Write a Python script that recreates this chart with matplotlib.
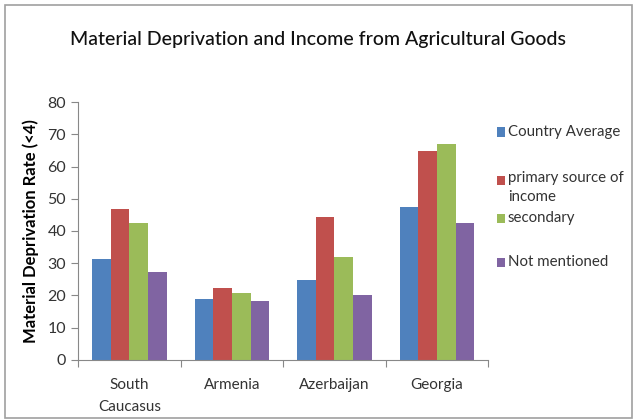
import matplotlib
matplotlib.use("Agg")
import matplotlib.pyplot as plt
import numpy as np
from matplotlib.patches import Rectangle

plt.rcParams['font.family'] = ['Lato', 'DejaVu Sans']

regions = ["South\nCaucasus", "Armenia", "Azerbaijan", "Georgia"]
series_names = ["Country Average", "primary source of\nincome", "secondary", "Not mentioned"]
country_avg = [31.3, 18.9, 24.8, 47.5]
primary = [46.7, 22.2, 44.4, 64.8]
secondary = [42.4, 20.9, 32.0, 67.0]
not_mentioned = [27.2, 18.4, 20.2, 42.4]
colors = ["#4F81BD", "#C0504D", "#9BBB59", "#8064A2"]

fig = plt.figure(figsize=(6.37, 4.2), dpi=100)
# chart area frame
fig.patches.append(Rectangle((0.008, 0.005), 0.984, 0.982, transform=fig.transFigure,
                             fill=False, edgecolor="#A0A0A0", linewidth=1.2))

ax = fig.add_axes([0.1225, 0.143, 0.644, 0.614])
x = np.arange(len(regions))
w = 0.727 / 4
for i, vals in enumerate([country_avg, primary, secondary, not_mentioned]):
    ax.bar(x + (i - 1.5) * w, vals, width=w, color=colors[i], linewidth=0)

ax.set_xlim(-0.5, 3.5)
ax.set_ylim(0, 80)
ax.set_yticks(range(0, 81, 10))
# tick marks between groups, labels under group centres
ax.set_xticks(np.arange(-0.5, 4, 1))
ax.set_xticklabels([])
ax.set_xticks(x, minor=True)
ax.set_xticklabels(regions, minor=True, linespacing=1.7)
ax.tick_params(axis='x', which='minor', length=0, pad=13, labelsize=11, colors="#333333")
ax.tick_params(axis='x', which='major', length=5, color="#888888")
ax.tick_params(axis='y', length=5, color="#888888", labelsize=11.5, labelcolor="#333333")
for s in ['top', 'right']:
    ax.spines[s].set_visible(False)
for s in ['left', 'bottom']:
    ax.spines[s].set_color("#888888")

ax.set_ylabel("Material Deprivation Rate (<4)", fontsize=12, fontweight='bold', labelpad=6)
fig.text(0.5, 0.905, "Material Deprivation and Income from Agricultural Goods",
         ha='center', va='center', fontsize=14, color="#111111", fontweight='medium')

# legend entries, Excel-style spacing
legend_y = [132, 180, 218, 262]
for c, name, yp in zip(colors, series_names, legend_y):
    fy = 1 - yp / 420
    fig.patches.append(Rectangle((497 / 637, fy - 4.5 / 420), 8 / 637, 9 / 420,
                                 transform=fig.transFigure, facecolor=c, edgecolor='none'))
    if '\n' in name:
        fig.text(508 / 637, fy + 9 / 420, name, ha='left', va='top', fontsize=10.8,
                 color="#333333", linespacing=1.45)
    else:
        fig.text(508 / 637, fy, name, ha='left', va='center', fontsize=10.8, color="#333333")

fig.savefig("out.png", dpi=100)
